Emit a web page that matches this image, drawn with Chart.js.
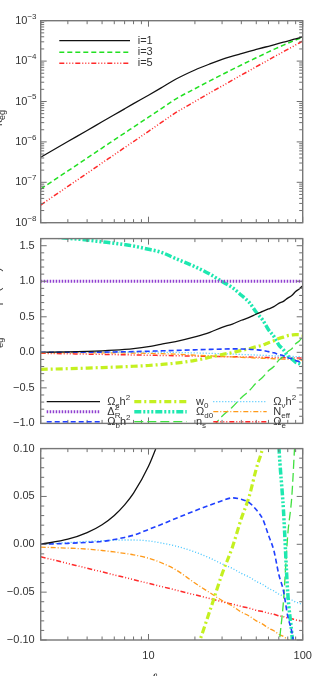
<!DOCTYPE html>
<html><head><meta charset="utf-8">
<script src="https://cdn.jsdelivr.net/npm/chart.js@4/dist/chart.umd.min.js"></script>
<style>
html,body{margin:0;padding:0;background:#fff;width:312px;height:676px;overflow:hidden}
canvas{position:absolute;left:0}
</style></head><body>
<canvas id="c1" width="312" height="226" style="top:0px"></canvas>
<canvas id="c2" width="312" height="210" style="top:226px"></canvas>
<canvas id="c3" width="312" height="240" style="top:436px"></canvas>
<script>
// ---------------- data ----------------
const ells = [2,3,4,5,6,7,8,10,12,15,20,25,30,35,40,45,50,55,60,65,70,75,80,85,90,95,100];

// top panel: kappa for i=1,3,5
const kappa_i1 = [4.16e-7,1.02e-6,1.91e-6,3.15e-6,4.69e-6,6.59e-6,8.83e-6,1.43e-5,2.14e-5,3.55e-5,6.03e-5,8.51e-5,1.10e-4,1.32e-4,1.53e-4,1.74e-4,1.94e-4,2.14e-4,2.33e-4,2.53e-4,2.73e-4,2.93e-4,3.13e-4,3.34e-4,3.56e-4,3.78e-4,4.0e-4];
const kappa_i3 = [6.82e-8,1.91e-7,3.97e-7,7.06e-7,1.12e-6,1.66e-6,2.32e-6,4.08e-6,6.52e-6,1.15e-5,2.07e-5,3.24e-5,4.62e-5,6.22e-5,8.02e-5,9.98e-5,1.21e-4,1.44e-4,1.69e-4,1.95e-4,2.21e-4,2.49e-4,2.77e-4,3.05e-4,3.33e-4,3.61e-4,3.89e-4];
const kappa_i5 = [2.74e-8,7.91e-8,1.67e-7,3.01e-7,4.82e-7,7.23e-7,1.02e-6,1.83e-6,2.94e-6,5.28e-6,9.95e-6,1.63e-5,2.42e-5,3.37e-5,4.50e-5,5.79e-5,7.26e-5,8.87e-5,1.07e-4,1.27e-4,1.48e-4,1.71e-4,1.96e-4,2.22e-4,2.51e-4,2.81e-4,3.13e-4];

// middle / bottom panels: log derivatives
const d_omch2  = [0.0,0.0053,0.0122,0.0205,0.0302,0.0412,0.0534,0.0815,0.113,0.152,0.218,0.281,0.352,0.398,0.451,0.491,0.539,0.576,0.61,0.642,0.688,0.717,0.763,0.798,0.856,0.891,0.938];
const d_deltaR = [1.0,1.0,1.0,1.0,1.0,1.0,1.0,1.0,1.0,1.0,1.0,1.0,1.0,1.0,1.0,1.0,1.0,1.0,1.0,1.0,1.0,1.0,1.0,1.0,1.0,1.0,1.0];
const d_ombh2  = [0.0,0.001,0.002,0.003,0.005,0.0072,0.0095,0.0155,0.0205,0.027,0.035,0.041,0.0455,0.0485,0.047,0.0435,0.036,0.0265,0.0095,-0.0065,-0.0315,-0.0485,-0.0753,-0.0913,-0.1165,-0.131,-0.155];
const d_w0     = [-0.24,-0.23,-0.222,-0.214,-0.208,-0.202,-0.196,-0.185,-0.172,-0.152,-0.114,-0.0695,-0.031,-0.003,0.027,0.050,0.079,0.101,0.135,0.162,0.196,0.214,0.235,0.244,0.25,0.249,0.24];
const d_omd0   = [1.64,1.605,1.58,1.555,1.535,1.515,1.495,1.45,1.41,1.32,1.205,1.10,0.995,0.91,0.803,0.703,0.563,0.456,0.319,0.225,0.104,0.036,-0.051,-0.093,-0.139,-0.158,-0.18];
const d_ns     = [null,null,null,null,null,null,null,null,null,-1.56,-1.29,-1.09,-0.90,-0.77,-0.64,-0.54,-0.43,-0.35,-0.26,-0.20,-0.11,-0.06,0.01,0.05,0.12,0.16,0.22];
const d_omnuh2 = [0.0,0.0018,0.003,0.0038,0.0043,0.0045,0.0045,0.0035,0.0015,-0.0018,-0.008,-0.0144,-0.0205,-0.0252,-0.0304,-0.0342,-0.0388,-0.042,-0.046,-0.0487,-0.0521,-0.0541,-0.0567,-0.0582,-0.0604,-0.0616,-0.0633];
const d_neff   = [-0.003,-0.004,-0.005,-0.0065,-0.008,-0.0095,-0.011,-0.0145,-0.019,-0.0265,-0.0405,-0.0506,-0.0588,-0.0646,-0.0708,-0.075,-0.080,-0.0834,-0.0876,-0.0904,-0.094,-0.0963,-0.0996,-0.1015,-0.1045,-0.1061,-0.1088];
const d_omegae = [-0.013,-0.020,-0.025,-0.0288,-0.032,-0.0346,-0.0369,-0.0408,-0.0439,-0.0478,-0.0528,-0.0566,-0.060,-0.0625,-0.065,-0.0668,-0.0689,-0.0703,-0.072,-0.0732,-0.0747,-0.0756,-0.077,-0.0778,-0.079,-0.0797,-0.0808];

// tick values / labels
const xMajor = [10,100];
const xLabels = ['10','100'];
const topTicks = [1e-8,1e-7,1e-6,1e-5,1e-4,1e-3];
const topLabels = ['10^{\u22128}','10^{\u22127}','10^{\u22126}','10^{\u22125}','10^{\u22124}','10^{\u22123}'];
const midTicks = [-1.0,-0.5,0.0,0.5,1.0,1.5];
const midLabels = ['\u22121.0','\u22120.5','0.0','0.5','1.0','1.5'];
const botTicks = [-0.10,-0.05,0.00,0.05,0.10];
const botLabels = ['\u22120.10','\u22120.05','0.00','0.05','0.10'];

const topNames = ['i=1','i=3','i=5'];
const midNames = ['\u03A9_ch^2','\u0394_R^2','\u03A9_bh^2','w_0','\u03A9_{d0}','n_s','\u03A9_\u03BDh^2','N_{eff}','\u03A9_e'];

// ---------------- helpers ----------------
const FONT = '"Liberation Sans", Arial, Helvetica, sans-serif';
const TXT = '#333333';
function parseRich(s){
  const out=[]; let i=0;
  while(i<s.length){
    const c=s[i];
    if(c==='_'||c==='^'){
      let t;
      if(s[i+1]==='{'){ const j=s.indexOf('}',i); t=s.slice(i+2,j); i=j+1; }
      else { t=s[i+1]; i+=2; }
      out.push({t, m: c==='_'?'sub':'sup'});
    } else {
      let j=i; while(j<s.length && s[j]!=='_' && s[j]!=='^') j++;
      out.push({t:s.slice(i,j), m:'n'}); i=j;
    }
  }
  return out;
}
function drawRich(ctx, s, x, y, size, align, color){
  const toks=parseRich(s); const sm=Math.round(size*0.72);
  const items=[]; let w=0, prev=null, subX=0;
  for(const t of toks){
    ctx.font=(t.m==='n'?size:sm)+'px '+FONT;
    const tw=ctx.measureText(t.t).width; let px;
    if(t.m==='sup' && prev==='sub'){ px=subX; w=Math.max(w, subX+tw); }
    else { px=w; if(t.m==='sub') subX=w; w+=tw; }
    items.push({t:t.t,m:t.m,px}); prev=t.m;
  }
  const x0 = align==='right'? x-w : align==='center'? x-w/2 : x;
  ctx.fillStyle=color; ctx.textBaseline='middle'; ctx.textAlign='left';
  for(const it of items){
    ctx.font=(it.m==='n'?size:sm)+'px '+FONT;
    const dy = it.m==='sub'? size*0.33 : it.m==='sup'? -size*0.4 : 0;
    ctx.fillText(it.t, x0+it.px, y+dy);
  }
}
function pts(arr){ return ells.map((l,i)=>({x:l,y:arr[i]})); }
function decadeMinors(lo,hi){ const r=[]; for(let d=lo; d<hi; d++){ for(let m=2;m<=9;m++) r.push(m*Math.pow(10,d)); } return r; }
function linMinors(lo,hi,step,majStep){ const r=[]; const n=Math.round((hi-lo)/step); for(let k=0;k<=n;k++){ const v=lo+k*step; const q=v/majStep; if(Math.abs(q-Math.round(q))>1e-6) r.push(+v.toFixed(6)); } return r; }

const deco = {
  id:'deco',
  afterDraw(chart){
    const o=chart.options.plugins.deco; const ctx=chart.ctx; const a=chart.chartArea;
    const xs=chart.scales.x, ys=chart.scales.y;
    ctx.save();
    ctx.strokeStyle='#707070'; ctx.lineWidth=1; ctx.setLineDash([]);
    ctx.beginPath();
    const xt=(vals,L)=>vals.forEach(v=>{const p=xs.getPixelForValue(v); ctx.moveTo(p,a.bottom); ctx.lineTo(p,a.bottom-L); ctx.moveTo(p,a.top); ctx.lineTo(p,a.top+L);});
    const yt=(vals,L)=>vals.forEach(v=>{const p=ys.getPixelForValue(v); ctx.moveTo(a.left,p); ctx.lineTo(a.left+L,p); ctx.moveTo(a.right,p); ctx.lineTo(a.right-L,p);});
    xt(o.xMajor,6); xt(o.xMinor,3.5); yt(o.yMajor,6); yt(o.yMinor,3.5);
    ctx.stroke();
    ctx.lineWidth=1.4; ctx.strokeStyle='#777';
    ctx.strokeRect(a.left,a.top,a.right-a.left,a.bottom-a.top);
    if(o.yLabels){ o.yLabels.vals.forEach((v,i)=>{ drawRich(ctx, o.yLabels.text[i], 36.5, ys.getPixelForValue(v), 11, 'right', TXT); }); }
    if(o.xLabels){ o.xLabels.vals.forEach((v,i)=>{ drawRich(ctx, o.xLabels.text[i], xs.getPixelForValue(v), a.bottom+16, 11, 'center', TXT); }); }
    if(o.legend){
      o.legend.forEach(e=>{
        const ds=chart.data.datasets[e.ds];
        ctx.save();
        ctx.strokeStyle=ds.borderColor; ctx.lineWidth=ds.borderWidth; ctx.setLineDash(ds.borderDash||[]);
        ctx.beginPath(); ctx.moveTo(e.x1,e.y); ctx.lineTo(e.x2,e.y); ctx.stroke();
        ctx.restore();
        drawRich(ctx, e.label, e.tx, e.y, 11, 'left', TXT);
      });
    }
    if(o.yTitle){
      ctx.save(); ctx.translate(o.yTitle.x, o.yTitle.y); ctx.rotate(-Math.PI/2);
      drawRich(ctx, o.yTitle.text, 0, 0, 12, 'center', TXT);
      ctx.restore();
    }
    if(o.xTitle){
      ctx.font='italic 15px '+FONT; ctx.fillStyle=TXT; ctx.textAlign='center'; ctx.textBaseline='alphabetic';
      ctx.fillText(o.xTitle.text, o.xTitle.x, o.xTitle.y);
    }
    ctx.restore();
  }
};

const xMinorAll = decadeMinors(0,2).filter(v=>v>=2);
const yAfterFit = s=>{ s.width=40.7; };
const tickFont = {family:FONT, size:11};

function xScale(show){
  const s = {type:'logarithmic', min:2, max:100, grid:{display:false, drawTicks:false}, border:{display:false}, ticks:{display:false}};
  if(!show){ s.display=false; }
  else { s.afterFit = sc=>{ sc.height=36; }; }
  return s;
}
function baseOpts(){
  return {responsive:false, animation:false, events:[],
    layout:{autoPadding:false},
    elements:{point:{radius:0}, line:{cubicInterpolationMode:'monotone', borderJoinStyle:'round'}},
    plugins:{legend:{display:false}, tooltip:{enabled:false}}};
}

// ---------------- top chart ----------------
{
  const o=baseOpts();
  o.layout.padding={left:0, right:9.3, top:20.7, bottom:3.3};
  o.scales={ x:xScale(false),
    y:{type:'logarithmic', min:1e-8, max:1e-3, afterFit:yAfterFit, grid:{display:false, drawTicks:false}, border:{display:false}, ticks:{display:false}} };
  o.plugins.deco={ xMajor, xMinor:xMinorAll, yMajor:topTicks, yMinor:decadeMinors(-8,-3),
    yLabels:{vals:topTicks, text:topLabels},
    legend:[{ds:0,y:40.7,x1:59.3,x2:130,tx:137.7,label:topNames[0]},
            {ds:1,y:52.3,x1:59.3,x2:130,tx:137.7,label:topNames[1]},
            {ds:2,y:63.3,x1:59.3,x2:130,tx:137.7,label:topNames[2]}],
    yTitle:{x:-1.5, y:118, text:'\u03BA_{eg}'} };
  new Chart(document.getElementById('c1'), {type:'line', plugins:[deco], options:o,
    data:{datasets:[
      {data:pts(kappa_i1), borderColor:'#111111', borderWidth:1.3},
      {data:pts(kappa_i3), borderColor:'#22e022', borderWidth:1.5, borderDash:[5,3]},
      {data:pts(kappa_i5), borderColor:'#ff2a2a', borderWidth:1.5, borderDash:[5,2,1,2,1,2,1,2]}
    ]}});
}

function derivDatasets(){
  return [
    {data:pts(d_omch2),  borderColor:'#111111', borderWidth:1.3},
    {data:pts(d_deltaR), borderColor:'#9040d0', borderWidth:3, borderDash:[1.5,1.5]},
    {data:pts(d_ombh2),  borderColor:'#2040ff', borderWidth:1.6, borderDash:[5,3]},
    {data:pts(d_w0),     borderColor:'#c4f020', borderWidth:3.2, borderDash:[7,3,2,3]},
    {data:pts(d_omd0),   borderColor:'#1ee8b0', borderWidth:3.5, borderDash:[7,2,2,2,2,2,2,2]},
    {data:pts(d_ns),     borderColor:'#40e040', borderWidth:1.3, borderDash:[9,4]},
    {data:pts(d_omnuh2), borderColor:'#40c4ff', borderWidth:1.3, borderDash:[1,2]},
    {data:pts(d_neff),   borderColor:'#ff9a1a', borderWidth:1.3, borderDash:[5,2,1,2]},
    {data:pts(d_omegae), borderColor:'#ff2a2a', borderWidth:1.5, borderDash:[5,2,1,2,1,2,1,2]}
  ];
}

// ---------------- middle chart ----------------
{
  const o=baseOpts();
  o.layout.padding={left:0, right:9.3, top:3.3, bottom:4};
  o.scales={ x:xScale(false),
    y:{type:'linear', min:-1.0, max:1.6, afterFit:yAfterFit, grid:{display:false, drawTicks:false}, border:{display:false},
       afterBuildTicks:s=>{ s.ticks=midTicks.map(v=>({value:v})); },
       ticks:{font:tickFont, color:TXT, padding:6, callback:(v)=>{ const i=midTicks.findIndex(t=>Math.abs(t-v)<1e-9); return i>=0?midLabels[i]:''; }}} };
  const rows=[175.7,185.7,195.7];
  const cols=[[46.7,100,107.3],[134.3,186.7,196],[213.3,266.7,273.3]];
  const legend=[];
  for(let c=0;c<3;c++) for(let r=0;r<3;r++){ const k=c*3+r; legend.push({ds:k,y:rows[r],x1:cols[c][0],x2:cols[c][1],tx:cols[c][2],label:midNames[k]}); }
  o.plugins.deco={ xMajor, xMinor:xMinorAll, yMajor:midTicks, yMinor:linMinors(-1.0,1.6,0.1,0.5), legend,
    yTitle:{x:-3, y:96, text:'d ln \u03BA_{eg} / d ln p  (i=3)'} };
  new Chart(document.getElementById('c2'), {type:'line', plugins:[deco], options:o, data:{datasets:derivDatasets()}});
}

// ---------------- bottom chart ----------------
{
  const o=baseOpts();
  o.layout.padding={left:0, right:9.3, top:4, bottom:0};
  o.scales={ x:xScale(true),
    y:{type:'linear', min:-0.1, max:0.1, afterFit:yAfterFit, grid:{display:false, drawTicks:false}, border:{display:false},
       afterBuildTicks:s=>{ s.ticks=botTicks.map(v=>({value:v})); },
       ticks:{font:tickFont, color:TXT, padding:6, callback:(v)=>{ const i=botTicks.findIndex(t=>Math.abs(t-v)<1e-9); return i>=0?botLabels[i]:''; }}} };
  o.plugins.deco={ xMajor, xMinor:xMinorAll, yMajor:botTicks, yMinor:linMinors(-0.1,0.1,0.01,0.05),
    xLabels:{vals:xMajor, text:xLabels},
    xTitle:{x:154, y:248, text:'\u2113'} };
  new Chart(document.getElementById('c3'), {type:'line', plugins:[deco], options:o, data:{datasets:derivDatasets()}});
}
</script>
</body></html>
